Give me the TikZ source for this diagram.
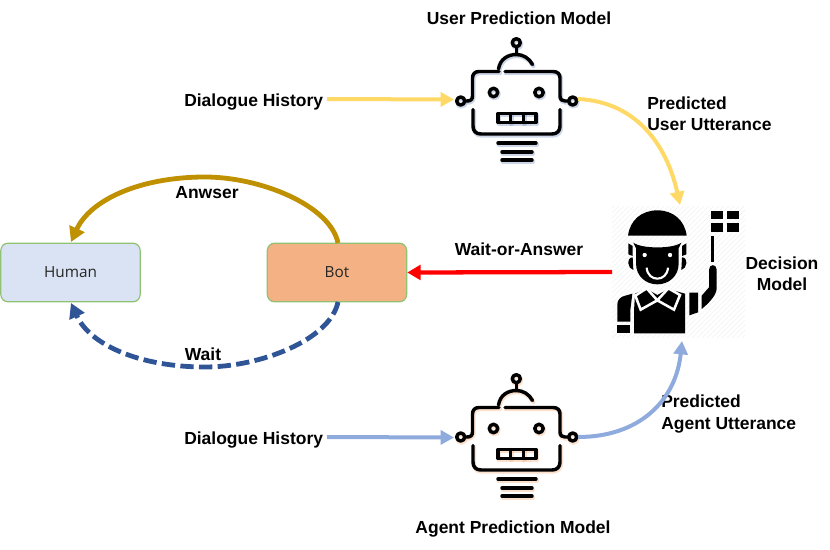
\documentclass[tikz,border=0pt]{standalone}
\usepackage{fontspec}
\setmainfont{Liberation Sans}
\newfontfamily\boxfont{Open Sans}
\usetikzlibrary{arrows.meta}
\definecolor{flowyellow}{HTML}{FFD966}
\definecolor{flowblue}{HTML}{8FAADC}
\definecolor{answergold}{HTML}{BF9000}
\definecolor{waitblue}{HTML}{2F5597}
\definecolor{humanfill}{HTML}{DAE3F3}
\definecolor{botfill}{HTML}{F4B183}
\definecolor{boxedge}{HTML}{8FC373}
\tikzset{
  caption/.style={font=\fontsize{13.1}{16}\selectfont\bfseries, text=black, inner sep=0pt, align=center},
  leftcaption/.style={caption, align=left, anchor=west},
  agentbox/.style={draw=boxedge, line width=0.9pt, rounded corners=5.5pt, minimum width=104.5pt, minimum height=44pt, inner sep=0pt, font=\boxfont\fontsize{11.5}{14}\selectfont, text=black!85},
  flowline/.style={line width=3pt, -{Triangle[length=10pt,width=10.5pt]}},
  robotline/.style={line width=2.6pt, line cap=round, line join=round},
}
% Robot outline, drawn in a 150 x 140 local frame
\newcommand{\robotoutline}{%
  \draw (76.3,12.7) circle (4);
  \draw (76.3,17) -- (76.3,23);
  \draw (58.5,39) .. controls (60,29) and (68,24.5) .. (76.3,24.5) .. controls (83,24.5) and (89,28) .. (92.5,34.5);
  \draw (59,41.5) -- (39,41.5) .. controls (35,41.5) and (32.5,44) .. (32.5,48) -- (32.5,66) .. controls (32.5,69.5) and (30.5,71) .. (27,71) -- (25,71);
  \draw (65,41.5) -- (113,41.5) .. controls (117.5,41.5) and (120,44) .. (120,48) -- (120,66) .. controls (120,69.5) and (122,71) .. (125,71) -- (128.5,71);
  \draw (20.7,71) circle (4);
  \draw (132.7,71) circle (4);
  \draw (33,79.5) -- (33,96) .. controls (33,101) and (36,104) .. (41,104) -- (112,104) .. controls (117,104) and (120,101) .. (120,96) -- (120,79.5);
  \draw (53.5,62.5) circle (4.2);
  \draw (99,62.5) circle (4.2);
  \draw (58,83.5) rectangle (96,92.5);
  \draw (70.5,83.5) -- (70.5,92.5) (83.5,83.5) -- (83.5,92.5);
  \draw (58,113) -- (96,113);
  \draw (62,122) -- (92,122);
  \draw (62,130) -- (92,130);
}
\newcommand{\robotglyph}[3]{%
  \begin{scope}[shift={(#1,#2)}]
    \begin{scope}[shift={(0.8,1.4)}, robotline, draw=#3, opacity=.4, line width=3.4pt]
      \robotoutline
    \end{scope}
    \begin{scope}[robotline, draw=black]
      \robotoutline
    \end{scope}
  \end{scope}%
}
\begin{document}
\begin{tikzpicture}[x=0.75pt, y=-0.75pt]
\useasboundingbox (0,0) rectangle (830,549);

% Robots for the two prediction models
\robotglyph{440}{30}{waitblue!60}
\robotglyph{440}{366}{botfill}

% Referee figure of the decision model, on a faint hatched tile
\begin{scope}
  \clip (612,206) rectangle (745,338);
  \foreach \s in {0,5,...,270} {
    \draw[black!5, line width=0.4pt] (612+\s,338) -- (612+\s+132,206);
    \draw[black!5, line width=0.4pt] (612-\s,338) -- (612-\s+132,206);
  }
\end{scope}
\begin{scope}[shift={(600,195)}, x=0.25pt, y=-0.25pt]
  % helmet and peak
  \fill (84,122) .. controls (90,75) and (125,46) .. (172,46) .. controls (219,46) and (254,75) .. (260,122) -- cycle;
  % face
  \fill (100,143) .. controls (125,162) and (219,162) .. (244,143) -- (236,160) -- (236,205) .. controls (236,245) and (205,268) .. (172,268) .. controls (139,268) and (108,245) .. (108,205) -- (108,160) -- cycle;
  % hair and ears
  \fill (85,145) -- (98,153) -- (98,183) -- (85,178) -- cycle;
  \fill (259,145) -- (246,153) -- (246,183) -- (259,178) -- cycle;
  \fill (98,187) .. controls (88,187) and (85,195) .. (85,205) .. controls (85,215) and (92,222) .. (100,225) -- cycle;
  \fill (246,187) .. controls (256,187) and (259,195) .. (259,205) .. controls (259,215) and (252,222) .. (244,225) -- cycle;
  \fill[white] (134,180) circle (6.5) (210,180) circle (6.5);
  \draw[white, line width=1.6pt, line cap=butt] (140,218) .. controls (143,262) and (201,262) .. (204,218);
  % torso
  \fill (102,348) -- (105,296) -- (140,282) -- (172,300) -- (205,282) -- (255,296) -- (255,415) -- (102,415) -- cycle;
  \draw[white, line width=1.9pt, line join=miter] (140,280) -- (106,302) -- (122,344) -- (172,316) -- (222,344) -- (240,300) -- (205,280) -- (172,316) -- cycle;
  % left arm and cuff
  \fill (52,380) -- (52,328) .. controls (52,314) and (62,305) .. (76,302) -- (97,296) -- (91,345) -- (91,380) -- cycle;
  \fill (52,391) rectangle (91,415);
  % raised arm
  \fill (268,293) -- (294,293) -- (294,352) -- (268,361) -- cycle;
  \fill (305,342) -- (305,302) -- (327,277) -- (327,224) .. controls (327,206) and (350,206) .. (350,224) -- (350,280) .. controls (350,298) and (330,322) .. (305,342) -- cycle;
  % flag and pole
  \fill (332,123) rectangle (343,200);
  \fill (332,47) rectangle (368,72);
  \fill (381,47) rectangle (418,72);
  \fill (332,85) rectangle (368,110);
  \fill (381,85) rectangle (418,110);
\end{scope}

% Conversation partners
\node[agentbox, fill=humanfill] (human) at (70.5,272.5) {\raisebox{-0.8pt}{Human}};
\node[agentbox, fill=botfill] (bot) at (337,272.5) {\raisebox{-0.8pt}{Bot}};

% Connection points on the robots and the referee
\coordinate (userStart) at (327,99);
\coordinate (agentStart) at (327,437);
\coordinate (userIn) at (454,99.5);
\coordinate (userOut) at (578,99);
\coordinate (agentIn) at (454,437.5);
\coordinate (agentOut) at (578,437);
\coordinate (decideTop) at (680,205);
\coordinate (decideBottom) at (682,341);
\coordinate (decideLeft) at (612,272);
\coordinate (humanTop) at (71,242);
\coordinate (humanBottom) at (71,303);
\coordinate (botTop) at (338,243);
\coordinate (botBottom) at (338,302);

% Text labels
\node[caption] (userModel) at (519,18.5) {User Prediction Model};
\node[caption] (agentModel) at (513,529) {Agent Prediction Model};
\node[leftcaption] (historyUser) at (184,102) {Dialogue History};
\node[leftcaption] (historyAgent) at (184,440) {Dialogue History};
\node[leftcaption] (predUser) at (647,114) {Predicted\\[0pt]User Utterance};
\node[leftcaption] (predAgent) at (661,414) {Predicted\\[0pt]Agent Utterance};
\node[caption] (decision) at (782,274) {Decision\\[0pt]Model};
\node[caption] (waitAnswer) at (519,249.5) {Wait-or-Answer};
\node[caption] (answerLabel) at (207,192.5) {Anwser};
\node[caption] (waitLabel) at (203,354.5) {Wait};

% Connectors
\draw[flowline, draw=flowyellow, flowyellow] (userStart) -- (userIn);
\draw[flowline, draw=flowblue, flowblue] (agentStart) -- (agentIn);
\draw[flowline, draw=flowyellow, flowyellow] (userOut) .. controls (640,102) and (668,150) .. (decideTop);
\draw[flowline, draw=flowblue, flowblue] (agentOut) .. controls (640,437) and (676,400) .. (decideBottom);
\draw[red, line width=3.2pt, -{Triangle[length=10pt,width=11pt]}] (decideLeft) -- (bot.east);
\draw[answergold, line width=3.6pt, -{Triangle[length=11pt,width=12pt]}] (botTop) .. controls (330,205) and (260,177) .. (205,177) .. controls (140,177) and (90,200) .. (humanTop);
\draw[waitblue, line width=3.6pt, dash pattern=on 10pt off 4pt, -{Triangle[length=11pt,width=12pt]}] (botBottom) .. controls (330,340) and (260,367) .. (205,367) .. controls (140,367) and (90,345) .. (humanBottom);
\end{tikzpicture}
\end{document}
